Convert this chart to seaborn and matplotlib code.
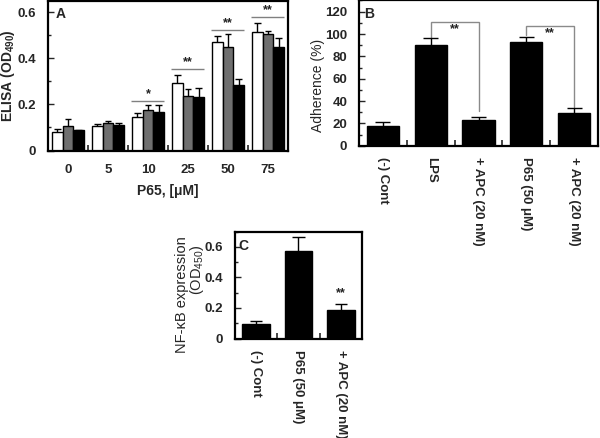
import numpy as np
import pandas as pd
import matplotlib
matplotlib.use("Agg")
import matplotlib.pyplot as plt
import seaborn as sns
from matplotlib.ticker import MultipleLocator, FixedLocator

sns.set_theme(style="ticks")
plt.rcParams["font.family"] = ["Liberation Sans", "DejaVu Sans"]
plt.rcParams["mathtext.fontset"] = "custom"
plt.rcParams["mathtext.rm"] = "Liberation Sans"
plt.rcParams["mathtext.bf"] = "Liberation Sans:bold"
plt.rcParams["mathtext.it"] = "Liberation Sans:italic"

# ---------------- data ----------------
# Panel A
a_doses = ["0", "5", "10", "25", "50", "75"]
a_series = ["s1", "s2", "s3"]
a_white = [0.080, 0.106, 0.147, 0.292, 0.472, 0.513]
a_white_err = [0.012, 0.010, 0.016, 0.035, 0.025, 0.039]
a_grey = [0.106, 0.118, 0.174, 0.237, 0.450, 0.504]
a_grey_err = [0.029, 0.010, 0.022, 0.029, 0.054, 0.016]
a_black = [0.087, 0.109, 0.167, 0.230, 0.283, 0.450]
a_black_err = [0.002, 0.011, 0.029, 0.039, 0.027, 0.038]
a_sig_groups = [2, 3, 4, 5]
a_sig_y = [0.215, 0.352, 0.523, 0.578]
a_sig_txt = ["*", "**", "**", "**"]

# Panel B
b_ids = ["b0", "b1", "b2", "b3", "b4"]
b_labels = ["(-) Cont", "LPS", "+ APC (20 nM)", "P65 (50 \u03bcM)", "+ APC (20 nM)"]
b_vals = [18.0, 90.5, 23.0, 92.4, 29.4]
b_err = [3.2, 6.2, 3.0, 5.2, 4.2]
b_brackets = [(1, 2, 110.7, 31.5), (3, 4, 107.4, 34.4)]  # (from, to, top, end)
b_bracket_start = [96.8, 99.0]
b_star_pos = [(1.5, 104.0), (3.5, 101.0)]

# Panel C
c_ids = ["c0", "c1", "c2"]
c_labels = ["(-) Cont", "P65 (50 \u03bcM)", "+ APC (20 nM)"]
c_vals = [0.094, 0.574, 0.186]
c_err = [0.022, 0.088, 0.043]
c_star = (2, 0.30, "**")

# ---------------- figure ----------------
W, H = 600, 438
fig = plt.figure(figsize=(6.0, 4.38), dpi=100)


def px_axes(left, top, right, bottom):
    return fig.add_axes([left / W, 1 - bottom / H, (right - left) / W, (bottom - top) / H])


axA = px_axes(48, 0.5, 288, 150.5)
axB = px_axes(359, 0.5, 598, 145.7)
axC = px_axes(235, 231.7, 362, 338.5)

TICK_FS = 9.5


def style_axes(ax, n, ymax, major, minor, fmt):
    ax.set_xlim(-0.5, n - 0.5)
    ax.set_ylim(0, ymax)
    for s in ax.spines.values():
        s.set_visible(True)
        s.set_linewidth(1.6)
        s.set_color("black")
    ax.yaxis.set_major_locator(MultipleLocator(major))
    ax.yaxis.set_minor_locator(MultipleLocator(minor))
    ax.xaxis.set_minor_locator(FixedLocator(np.arange(0.5, n - 0.5, 1.0)))
    ax.tick_params(axis="y", which="major", direction="in", length=4, width=1,
                   pad=8.5, labelsize=TICK_FS, left=True, right=False)
    ax.tick_params(axis="y", which="minor", direction="in", length=2.5, width=1,
                   left=True, right=False)
    ax.tick_params(axis="x", which="major", length=0, pad=8, labelsize=TICK_FS,
                   bottom=True, top=False)
    ax.tick_params(axis="x", which="minor", direction="in", length=4, width=1.2,
                   bottom=True, top=False)
    ax.yaxis.set_major_formatter(plt.FuncFormatter(fmt))
    for lab in ax.get_yticklabels():
        lab.set_fontweight("bold")
    ax.set_xlabel("")
    ax.set_ylabel("")
    ax.grid(False)


def up_errorbars(ax, vals, errs, capw, lw=1.0):
    bars = [p for c in ax.containers for p in c]
    for bar, v, e in zip(bars, vals, errs):
        xc = bar.get_x() + bar.get_width() / 2
        top = bar.get_height()
        ax.vlines(xc, top, top + e, color="black", lw=lw, zorder=5)
        ax.hlines(top + e, xc - capw / 2, xc + capw / 2, color="black", lw=lw, zorder=5)


# ---- Panel A ----
dfA = pd.DataFrame({
    "dose": np.tile(a_doses, 3),
    "series": np.repeat(a_series, len(a_doses)),
    "value": a_white + a_grey + a_black,
})
sns.barplot(data=dfA, x="dose", y="value", hue="series", order=a_doses,
            hue_order=a_series, palette=["white", "#6f6f6f", "black"],
            edgecolor="black", linewidth=1, saturation=1, width=0.8,
            errorbar=None, legend=False, ax=axA)
up_errorbars(axA, a_white + a_grey + a_black, a_white_err + a_grey_err + a_black_err, 0.17)
style_axes(axA, 6, 0.65, 0.2, 0.1, lambda v, p: "0" if abs(v) < 1e-9 else f"{v:.1f}")
axA.set_xticks(range(len(a_doses)))
axA.set_xticklabels(a_doses, fontweight="bold", fontsize=TICK_FS)
axA.xaxis.set_tick_params(pad=10)
for g, yv, t in zip(a_sig_groups, a_sig_y, a_sig_txt):
    axA.hlines(yv, g - 0.42, g + 0.4, color="#808080", lw=1)
    axA.text(g, yv + 0.004, t, ha="center", va="bottom", fontsize=9,
             fontweight="bold", color="#222222")
axA.text(0.03, 0.955, "A", transform=axA.transAxes, ha="left", va="top",
         fontsize=10, fontweight="bold")

# ---- Panel B ----
dfB = pd.DataFrame({"cond": b_ids, "value": b_vals})
sns.barplot(data=dfB, x="cond", y="value", order=b_ids, color="black",
            edgecolor="black", saturation=1, width=0.67, errorbar=None, ax=axB)
up_errorbars(axB, b_vals, b_err, 0.31)
style_axes(axB, 5, 130, 20, 10, lambda v, p: f"{v:.0f}")
axB.set_xticks(range(len(b_ids)))
axB.set_xticklabels(b_labels, rotation=270, fontweight="bold", fontsize=TICK_FS,
                    va="top", ha="center")
for (x0, x1, top, end), start in zip(b_brackets, b_bracket_start):
    axB.plot([x0, x0, x1, x1], [start, top, top, end], color="#8a8a8a", lw=1,
             zorder=4, solid_joinstyle="miter")
for (xs, ys) in b_star_pos:
    axB.text(xs, ys, "**", ha="center", va="center", fontsize=9,
             fontweight="bold", color="#222222")
axB.text(0.02, 0.955, "B", transform=axB.transAxes, ha="left", va="top",
         fontsize=10, fontweight="bold")

# ---- Panel C ----
dfC = pd.DataFrame({"cond": c_ids, "value": c_vals})
sns.barplot(data=dfC, x="cond", y="value", order=c_ids, color="black",
            edgecolor="black", saturation=1, width=0.65, errorbar=None, ax=axC)
up_errorbars(axC, c_vals, c_err, 0.29)
style_axes(axC, 3, 0.70, 0.2, 0.1, lambda v, p: "0" if abs(v) < 1e-9 else f"{v:.1f}")
axC.set_xticks(range(len(c_ids)))
axC.set_xticklabels(c_labels, rotation=270, fontweight="bold", fontsize=TICK_FS,
                    va="top", ha="center")
axC.text(c_star[0], c_star[1], c_star[2], ha="center", va="center", fontsize=9,
         fontweight="bold", color="#222222")
axC.text(0.03, 0.93, "C", transform=axC.transAxes, ha="left", va="top",
         fontsize=10, fontweight="bold")

# ---- axis titles ----
fig.text(8 / W, 1 - 76 / H, r"ELISA (OD$_{\mathbf{490}}$)", rotation=90,
         ha="center", va="center", fontsize=10, fontweight="bold")
fig.text(168 / W, 1 - 190.5 / H, "P65, [\u03bcM]", ha="center", va="center",
         fontsize=10, fontweight="bold")
fig.text(318 / W, 1 - 85 / H, "Adherence (%)", rotation=90, ha="center",
         va="center", fontsize=10)
fig.text(182 / W, 1 - 295 / H, "NF-\u03baB expression", rotation=90, ha="center",
         va="center", fontsize=10.5)
fig.text(196.5 / W, 1 - 270 / H, r"(OD$_{450}$)", rotation=90, ha="center",
         va="center", fontsize=10.5)

fig.savefig("out.png", dpi=100)
